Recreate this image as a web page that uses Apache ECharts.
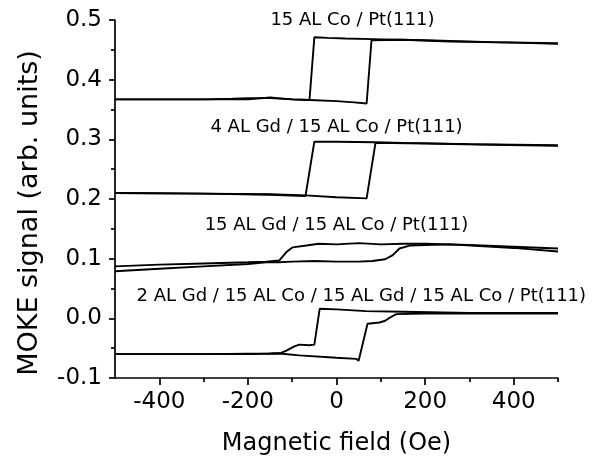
<!DOCTYPE html>
<html>
<head>
<meta charset="utf-8">
<script src="https://cdn.jsdelivr.net/npm/echarts@6/dist/echarts.min.js"></script>
<style>html,body{margin:0;padding:0;background:#fff}#c{width:607px;height:461px}</style>
</head>
<body>
<div id="c"></div>
<script>
// ---- data (field in Oe, MOKE signal in arb. units) ----
var xMajorTicks = [-400, -200, 0, 200, 400];
var xMinorTicks = [-300, -100, 100, 300, 500];

// 15 AL Co / Pt(111)
var co15Up = [[-500,0.367],[-300,0.367],[-235,0.368],[-200,0.369],[-150,0.369],[-100,0.367],[-60,0.366],[0,0.364],[40,0.362],[68,0.360],[79,0.466],[150,0.467],[256,0.464],[400,0.462],[500,0.460]];
var co15Down = [[500,0.461],[350,0.463],[200,0.466],[80,0.468],[20,0.469],[-20,0.470],[-50,0.471],[-61,0.366],[-100,0.367],[-150,0.370],[-200,0.367],[-300,0.367],[-500,0.367]];

// 4 AL Gd / 15 AL Co / Pt(111)
var gd4Up = [[-500,0.210],[-300,0.209],[-150,0.208],[-70,0.206],[0,0.203],[68,0.201],[88,0.294],[200,0.293],[350,0.291],[500,0.289]];
var gd4Down = [[500,0.290],[300,0.292],[150,0.294],[88,0.295],[0,0.296],[-50,0.296],[-70,0.205],[-150,0.207],[-300,0.209],[-500,0.210]];

// 15 AL Gd / 15 AL Co / Pt(111)
var gd15Up = [[-500,0.079],[-400,0.083],[-300,0.087],[-200,0.091],[-159,0.094],[-130,0.094],[-100,0.095],[-50,0.096],[0,0.095],[50,0.095],[81,0.096],[110,0.099],[127,0.106],[142,0.117],[165,0.122],[256,0.124],[400,0.118],[500,0.112]];
var gd15Down = [[500,0.117],[400,0.120],[300,0.123],[200,0.125],[150,0.125],[100,0.124],[50,0.126],[0,0.124],[-40,0.125],[-68,0.122],[-99,0.119],[-113,0.111],[-129,0.097],[-159,0.095],[-200,0.094],[-300,0.092],[-400,0.090],[-500,0.087]];

// 2 AL Gd / 15 AL Co / 15 AL Gd / 15 AL Co / Pt(111)
var multiUp = [[-500,-0.060],[-300,-0.060],[-200,-0.060],[-129,-0.059],[-84,-0.062],[0,-0.066],[45,-0.068],[50,-0.071],[70,-0.009],[97,-0.007],[110,-0.004],[120,0.001],[135,0.007],[200,0.008],[500,0.008]];
var multiDown = [[500,0.009],[300,0.009],[150,0.011],[67,0.012],[0,0.015],[-38,0.016],[-50,-0.044],[-61,-0.045],[-84,-0.044],[-95,-0.047],[-113,-0.054],[-125,-0.058],[-150,-0.059],[-300,-0.060],[-500,-0.060]];

// annotations
var labelTexts = ['15 AL Co / Pt(111)', '4 AL Gd / 15 AL Co / Pt(111)', '15 AL Gd / 15 AL Co / Pt(111)', '2 AL Gd / 15 AL Co / 15 AL Gd / 15 AL Co / Pt(111)'];
var labelX = [36, 0, 0, 56];
var labelY = [0.500, 0.320, 0.156, 0.037];

var yTitle = 'MOKE signal (arb. units)';
var xTitle = 'Magnetic field (Oe)';

var FONT = 'DejaVu Sans';
var chart = echarts.init(document.getElementById('c'), null, {renderer: 'canvas'});

function lineSeries(name, data) {
  return {
    name: name, type: 'line', data: data, showSymbol: false, symbol: 'none',
    lineStyle: {color: '#000', width: 1.9}, animation: false, silent: true, z: 3
  };
}

var annData = labelTexts.map(function (t, i) { return {name: t, value: [labelX[i], labelY[i]]}; });

chart.setOption({
  backgroundColor: '#fff',
  animation: false,
  grid: {left: 115, right: 49, top: 20, bottom: 83, containLabel: false},
  graphic: [{
    type: 'text', rotation: Math.PI / 2,
    x: 30, y: 213,
    style: {text: yTitle, font: '27px "DejaVu Sans"', fill: '#000', align: 'center', verticalAlign: 'middle'}
  }],
  xAxis: [{
    type: 'value', min: -500, max: 500, interval: 100,
    name: xTitle, nameLocation: 'middle', nameGap: 54,
    nameTextStyle: {fontFamily: FONT, fontSize: 24, color: '#000'},
    axisLine: {show: true, onZero: false, lineStyle: {color: '#000', width: 1.7}},
    axisTick: {show: true, inside: false, length: 7, customValues: xMajorTicks, lineStyle: {color: '#000', width: 1.7}},
    axisLabel: {show: true, margin: 13, customValues: xMajorTicks, fontFamily: FONT, fontSize: 23, color: '#000'},
    splitLine: {show: false}
  }, {
    type: 'value', min: -500, max: 500, interval: 100, position: 'bottom',
    axisLine: {show: false, onZero: false},
    axisTick: {show: true, inside: false, length: 4, customValues: xMinorTicks, lineStyle: {color: '#000', width: 1.7}},
    axisLabel: {show: false},
    splitLine: {show: false}
  }],
  yAxis: {
    type: 'value', min: -0.1, max: 0.5, interval: 0.1,
    axisLine: {show: true, onZero: false, lineStyle: {color: '#000', width: 1.7}},
    axisTick: {show: true, inside: false, length: 6, lineStyle: {color: '#000', width: 1.7}},
    minorTick: {show: true, splitNumber: 2, length: 4, lineStyle: {color: '#000', width: 1.7}},
    axisLabel: {margin: 13, fontFamily: FONT, fontSize: 23, color: '#000',
      formatter: function (v) { return v.toFixed(1); }},
    splitLine: {show: false}
  },
  series: [
    lineSeries('co15Up', co15Up), lineSeries('co15Down', co15Down),
    lineSeries('gd4Up', gd4Up), lineSeries('gd4Down', gd4Down),
    lineSeries('gd15Up', gd15Up), lineSeries('gd15Down', gd15Down),
    lineSeries('multiUp', multiUp), lineSeries('multiDown', multiDown),
    {
      type: 'scatter', data: annData, symbolSize: 0, silent: true, animation: false, z: 5,
      itemStyle: {opacity: 1},
      label: {show: true, position: 'inside', formatter: function (p) { return p.name; },
        fontFamily: FONT, fontSize: 18, color: '#000', opacity: 1, textBorderWidth: 0}
    }
  ]
});
</script>
</body>
</html>
